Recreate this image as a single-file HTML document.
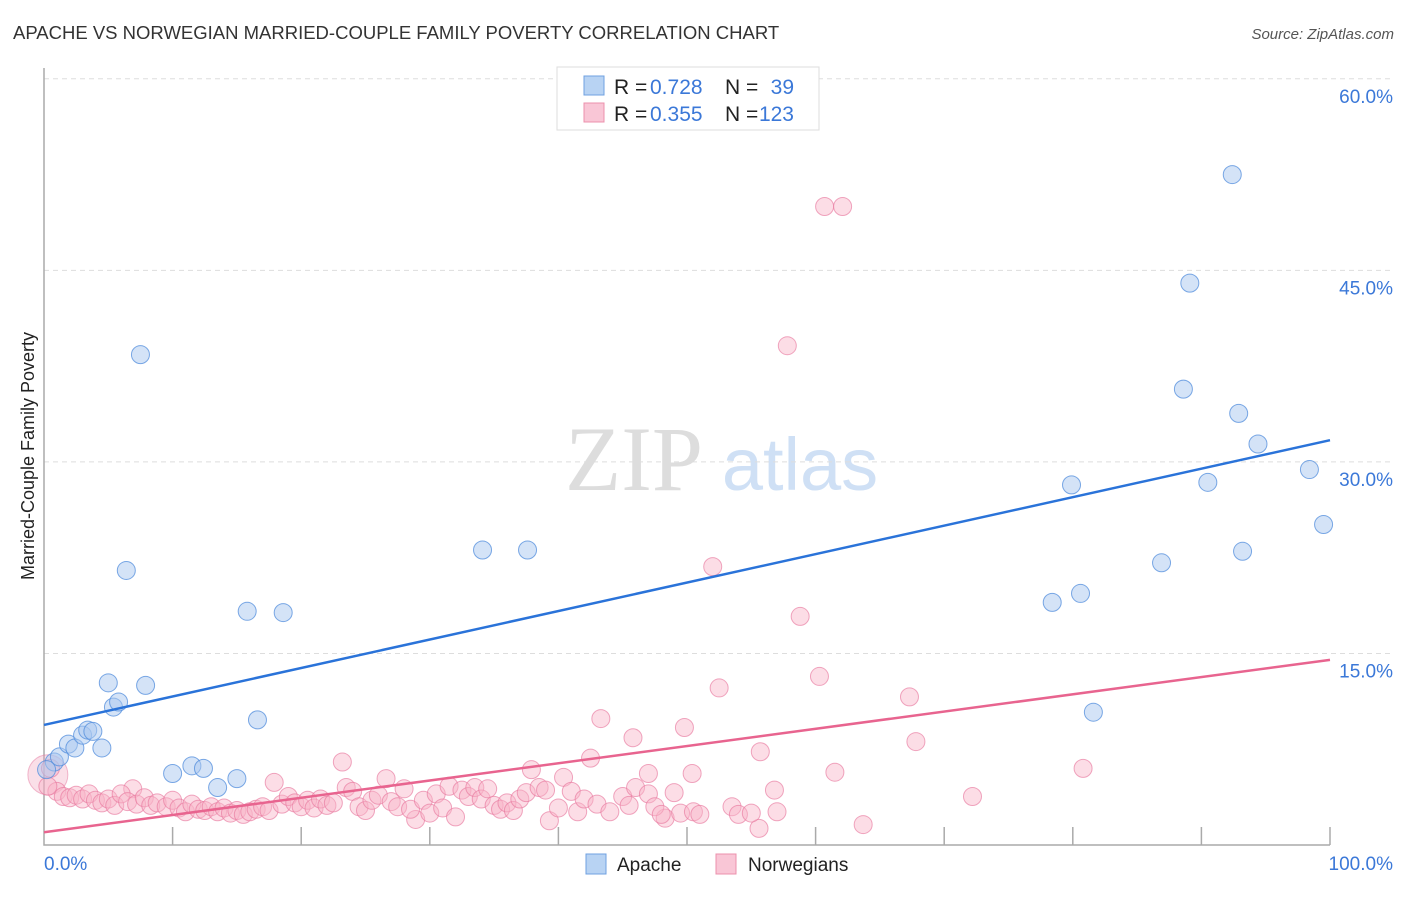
<!DOCTYPE html>
<html><head><meta charset="utf-8"><style>
body{margin:0;background:#fff;font-family:"Liberation Sans",sans-serif}
</style></head><body>
<svg width="1406" height="892" viewBox="0 0 1406 892" xmlns="http://www.w3.org/2000/svg" font-family="Liberation Sans, sans-serif">
<text x="13" y="39" font-size="18.5" fill="#333">APACHE VS NORWEGIAN MARRIED-COUPLE FAMILY POVERTY CORRELATION CHART</text>
<text x="1394" y="39" font-size="15" fill="#555" text-anchor="end" font-style="italic">Source: ZipAtlas.com</text>
<g>
<text x="634" y="490" font-size="92" fill="#ddd" text-anchor="middle" font-family="Liberation Serif, serif">ZIP</text>
<text x="800" y="490" font-size="74" fill="#cfe0f5" text-anchor="middle">atlas</text>
</g>
<g id="grid"></g>
<g id="axes"></g>
<g id="marks"></g>
<text transform="translate(34,456) rotate(-90)" font-size="18" fill="#222" text-anchor="middle">Married-Couple Family Poverty</text>
<g font-size="21">
<rect x="557" y="67" width="262" height="63" fill="#fff" stroke="#ddd"/>
<rect x="584" y="76" width="20" height="19" fill="#b8d3f3" stroke="#6fa0e0"/>
<rect x="584" y="103" width="20" height="19" fill="#f9c6d6" stroke="#ec90ac"/>
<text x="614" y="94" fill="#222">R =</text><text x="650" y="94" fill="#3b78d8">0.728</text>
<text x="725" y="94" fill="#222">N =</text><text x="794" y="94" fill="#3b78d8" text-anchor="end">39</text>
<text x="614" y="121" fill="#222">R =</text><text x="650" y="121" fill="#3b78d8">0.355</text>
<text x="725" y="121" fill="#222">N =</text><text x="794" y="121" fill="#3b78d8" text-anchor="end">123</text>
</g>
<g>
<rect x="586" y="854" width="20" height="20" fill="#b8d3f3" stroke="#6fa0e0"/>
<text x="617" y="871" font-size="19" fill="#222">Apache</text>
<rect x="716" y="854" width="20" height="20" fill="#f9c6d6" stroke="#ec90ac"/>
<text x="748" y="871" font-size="19" fill="#222">Norwegians</text>
</g>
</svg>
<script>
const yTicks=[15,30,45,60];
const yTickLabels=["15.0%","30.0%","45.0%","60.0%"];
const xTickLabels=["0.0%","100.0%"];
const apacheX=[0.8,1.2,1.9,2.4,3.0,3.4,3.8,4.5,5.0,5.4,5.8,6.4,7.5,7.9,10.0,11.5,12.4,13.5,15.0,15.8,16.6,18.6,34.1,37.6,78.4,79.9,80.6,81.6,86.9,88.6,89.1,90.5,92.4,92.9,93.2,94.4,98.4,99.5,0.2];
const apacheY=[6.5,6.9,7.9,7.6,8.6,9.0,8.9,7.6,12.7,10.8,11.2,21.5,38.4,12.5,5.6,6.2,6.0,4.5,5.2,18.3,9.8,18.2,23.1,23.1,19.0,28.2,19.7,10.4,22.1,35.7,44.0,28.4,52.5,33.8,23.0,31.4,29.4,25.1,5.9];
const norX=[60.7,62.1,57.8,52.0,58.8,60.3,52.5,67.3,43.3,49.8,45.8,67.8,55.7,42.5,23.2,80.8,37.9,61.5,47.0,50.4,40.4,26.6,17.9,6.9,56.8,72.2,63.7,55.6,28.9,39.3,48.3,
1,1.5,2,2.5,3,3.5,4,4.5,5,5.5,6,6.5,7.2,7.8,8.3,8.8,9.5,10,10.5,11,11.5,12,12.5,13,13.5,14,14.5,15,15.5,16,16.5,17,17.5,18.5,19,19.5,20,20.5,21,21.5,22,22.5,23.5,24,24.5,25,25.5,26,27,27.5,28,28.5,29.5,30,30.5,31,31.5,32,32.5,33,33.5,34,34.5,35,35.5,36,36.5,37,37.5,38.5,39,40,41,41.5,42,43,44,45,45.5,46,47,47.5,48,49,49.5,50.5,51,53.5,54,55,57,0.5,0.3];
const norY=[50.0,50.0,39.1,21.8,17.9,13.2,12.3,11.6,9.9,9.2,8.4,8.1,7.3,6.8,6.5,6.0,5.9,5.7,5.6,5.6,5.3,5.2,4.9,4.4,4.3,3.8,1.6,1.3,2.0,1.9,2.1,
4.2,3.8,3.7,3.9,3.6,4.0,3.5,3.3,3.6,3.1,4.0,3.4,3.2,3.7,3.1,3.3,3.0,3.5,2.9,2.6,3.2,2.8,2.7,3.0,2.6,2.9,2.5,2.7,2.4,2.6,2.8,3.0,2.7,3.2,3.8,3.3,3.0,3.5,2.9,3.6,3.1,3.3,4.5,4.2,3.0,2.7,3.5,3.9,3.4,3.0,4.4,2.8,3.5,2.5,4.0,2.9,4.6,2.2,4.3,3.8,4.5,3.6,4.4,3.1,2.8,3.3,2.7,3.6,4.1,4.5,4.3,2.9,4.2,2.6,3.6,3.2,2.6,3.8,3.1,4.5,4.0,3.0,2.4,4.1,2.5,2.6,2.4,3.0,2.4,2.5,2.6,6.0,4.6];
const apacheTrend=[9.4,31.7];
const norTrend=[1.0,14.5];
const NS='http://www.w3.org/2000/svg';
const X0=44,X1=1330,Y0=845,PPU=12.77;
const sx=v=>X0+(X1-X0)*v/100;
const sy=v=>Y0-v*PPU;
function mk(t,a,p){const e=document.createElementNS(NS,t);for(const k in a)e.setAttribute(k,a[k]);p.appendChild(e);return e;}
const grid=document.getElementById('grid'),axes=document.getElementById('axes'),marks=document.getElementById('marks');
yTicks.forEach((v,i)=>{
 const l=mk('line',{x1:X0,x2:1394,y1:sy(v),y2:sy(v),stroke:'#ddd','stroke-dasharray':'5,4'},grid);
 
 
 const t=mk('text',{x:1393,y:sy(v)+24,'font-size':19,fill:'#3b78d8','text-anchor':'end'},axes);
 t.textContent=yTickLabels[i];
 
 
});
const ax=mk('path',{d:`M${X0},68 V${Y0} H${X1}`,fill:'none',stroke:'#aaa','stroke-width':1.5},axes);


for(let i=1;i<=10;i++){
 const tk=mk('line',{x1:sx(i*10),x2:sx(i*10),y1:Y0,y2:Y0-18,stroke:'#aaa','stroke-width':1.5},axes);
 
 
}
[[0,'start',X0],[1,'end',1393]].forEach(([i,a,x])=>{
 const t=mk('text',{x:x,y:870,'font-size':19,fill:'#3b78d8','text-anchor':a},axes);
 t.textContent=xTickLabels[i];
 
 
});
const big=mk('circle',{cx:sx(0.3),cy:sy(5.5),r:20,fill:'rgba(240,150,180,0.3)',stroke:'rgba(230,120,160,0.5)'},marks);


norX.forEach((x,i)=>{
 const c=mk('circle',{cx:sx(x),cy:sy(norY[i]),r:9,fill:'rgba(248,180,200,0.45)',stroke:'rgba(232,120,158,0.65)','stroke-width':1},marks);
 
 
});
apacheX.forEach((x,i)=>{
 const c=mk('circle',{cx:sx(x),cy:sy(apacheY[i]),r:9,fill:'rgba(170,200,240,0.5)',stroke:'rgba(80,140,220,0.75)','stroke-width':1},marks);
 
 
});
const t1=mk('line',{x1:sx(0),x2:sx(100),y1:sy(apacheTrend[0]),y2:sy(apacheTrend[1]),stroke:'#2a73d9','stroke-width':2.5},marks);


const t2=mk('line',{x1:sx(0),x2:sx(100),y1:sy(norTrend[0]),y2:sy(norTrend[1]),stroke:'#e8648f','stroke-width':2.5},marks);


</script>
</body></html>
